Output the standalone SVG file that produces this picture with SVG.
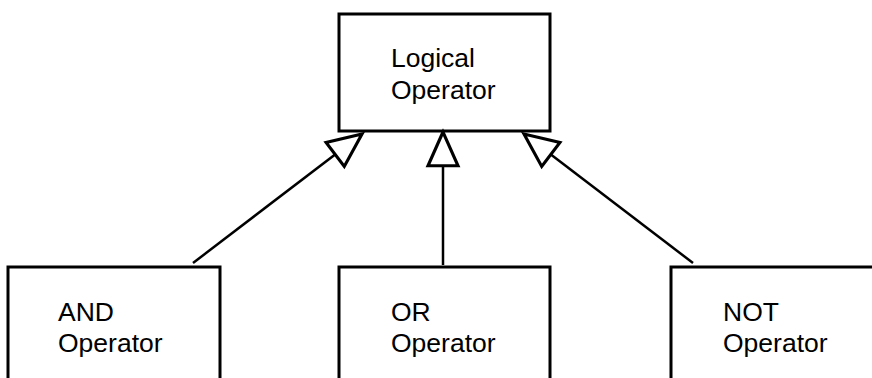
<svg xmlns="http://www.w3.org/2000/svg" width="872" height="378" viewBox="0 0 872 378">
<style>
.box{fill:#fff;stroke:#000;stroke-width:3}
.lbl{font-family:"Liberation Sans",Arial,sans-serif;font-size:26.5px;fill:#000}
.conn{stroke:#000;stroke-width:2.5;fill:none}
</style>
<defs>
<marker id="tri" markerUnits="userSpaceOnUse" orient="auto" markerWidth="40" markerHeight="40" refX="0" refY="0" viewBox="-30 -15 32 30" overflow="visible">
<path d="M0,0 L-27,-12 L-27,12 Z" fill="#fff" stroke="#000" stroke-width="2.5" stroke-linejoin="miter"/>
</marker>
</defs>
<g id="logical">
<rect class="box" x="339" y="14" width="211" height="117"/>
<text class="lbl" x="391" y="67">Logical</text>
<text class="lbl" x="391" y="99">Operator</text>
</g>
<g id="and">
<rect class="box" x="8" y="267" width="212" height="130"/>
<text class="lbl" x="58" y="321">AND</text>
<text class="lbl" x="58" y="352">Operator</text>
</g>
<g id="or">
<rect class="box" x="339" y="267" width="211" height="130"/>
<text class="lbl" x="391" y="321">OR</text>
<text class="lbl" x="391" y="352">Operator</text>
</g>
<g id="not">
<rect class="box" x="671" y="267" width="212" height="130"/>
<text class="lbl" x="723" y="321">NOT</text>
<text class="lbl" x="723" y="352">Operator</text>
</g>
<g id="connectors">
<line class="conn" x1="193" y1="263" x2="362" y2="134" marker-end="url(#tri)"/>
<line class="conn" x1="443" y1="265" x2="443" y2="132" marker-end="url(#tri)"/>
<line class="conn" x1="693" y1="263" x2="524" y2="134" marker-end="url(#tri)"/>
</g>
</svg>
